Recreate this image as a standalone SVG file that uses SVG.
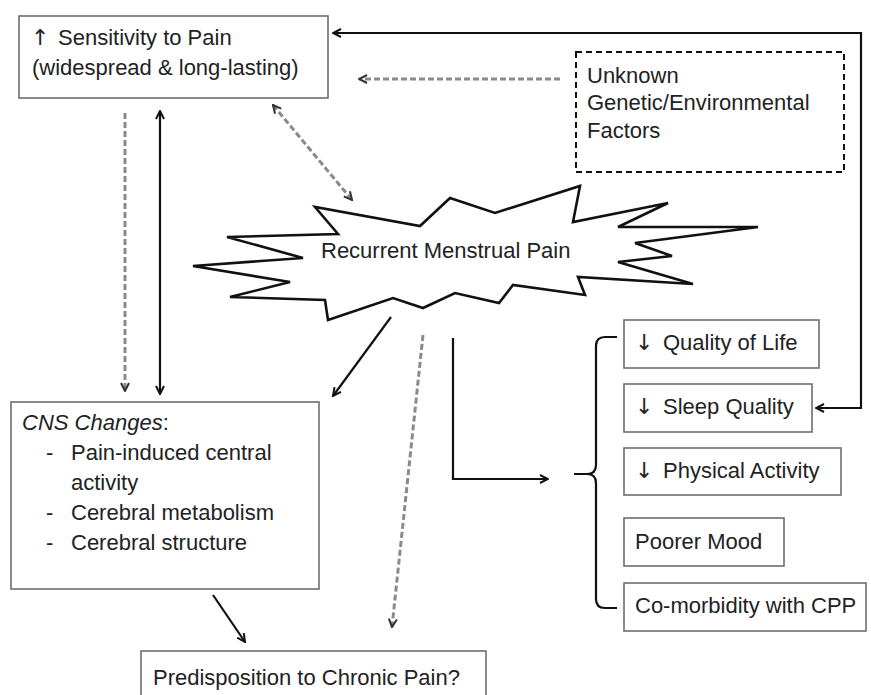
<svg xmlns="http://www.w3.org/2000/svg" width="871" height="695" viewBox="0 0 871 695">
<style>
  text { font-family: "Liberation Sans", Arial, sans-serif; font-size: 22px; fill: #222; }
  .arr { font-family: "DejaVu Sans", sans-serif; }
  .box { fill: #fff; stroke: #6e6e6e; stroke-width: 1.6; }
  .dbox { fill: #fff; stroke: #111; stroke-width: 2; stroke-dasharray: 6 4; }
  .solid { fill: none; stroke: #111; stroke-width: 2.2; }
  .dash { fill: none; stroke: #8a8a8a; stroke-width: 3; stroke-dasharray: 6 3; }
  .star { fill: #fff; stroke: #111; stroke-width: 2.6; stroke-linejoin: miter; }
</style>
<defs>
  <marker id="ah" viewBox="0 0 10 10" refX="9" refY="5" markerWidth="10" markerHeight="10" markerUnits="userSpaceOnUse" orient="auto-start-reverse">
    <path d="M1,1 L9,5 L1,9" fill="none" stroke="#111" stroke-width="2"/>
  </marker>
  <marker id="ahd" viewBox="0 0 10 10" refX="9" refY="5" markerWidth="10" markerHeight="10" markerUnits="userSpaceOnUse" orient="auto-start-reverse">
    <path d="M1,1 L9,5 L1,9" fill="none" stroke="#333" stroke-width="2"/>
  </marker>
</defs>

<g id="sensitivity">
  <rect class="box" x="19" y="16" width="309" height="82"/>
  <text x="31" y="45" font-size="23.5"><tspan class="arr">↑</tspan><tspan x="58">Sensitivity to Pain</tspan></text>
  <text x="32" y="75" font-size="23.5">(widespread &amp; long-lasting)</text>
</g>

<g id="unknown">
  <rect class="dbox" x="576" y="52" width="268" height="120"/>
  <text x="587" y="83">Unknown</text>
  <text x="587" y="110">Genetic/Environmental</text>
  <text x="587" y="138">Factors</text>
</g>

<g id="menstrual-pain">
  <path class="star" d="M193,266 L303,258 L227,237 L338,234 L315,207 L420,226 L450,198 L495,213 L580,186 L573,222 L668,203 L618,227 L758,227 L635,243 L672,256 L618,262 L693,284 L578,277 L585,295 L513,285 L499,303 L455,293 L423,308 L393,298 L328,320 L325,300 L230,297 L290,282 Z"/>
  <text x="321" y="258">Recurrent Menstrual Pain</text>
</g>

<g id="cns">
  <rect class="box" x="11" y="402" width="308" height="187"/>
  <text x="22" y="430"><tspan font-style="italic">CNS Changes</tspan>:</text>
  <text x="46" y="460">-</text>
  <text x="71" y="460">Pain-induced central</text>
  <text x="71" y="490">activity</text>
  <text x="46" y="520">-</text>
  <text x="71" y="520">Cerebral metabolism</text>
  <text x="46" y="550">-</text>
  <text x="71" y="550">Cerebral structure</text>
</g>

<g id="predisposition">
  <rect class="box" x="141" y="651" width="345" height="60"/>
  <text x="153" y="685">Predisposition to Chronic Pain?</text>
</g>

<g id="quality-of-life">
  <rect class="box" x="624" y="320" width="195" height="48"/>
  <text x="635" y="350"><tspan class="arr">↓</tspan><tspan x="663">Quality of Life</tspan></text>
</g>
<g id="sleep-quality">
  <rect class="box" x="624" y="384" width="188" height="48"/>
  <text x="635" y="414"><tspan class="arr">↓</tspan><tspan x="663">Sleep Quality</tspan></text>
</g>
<g id="physical-activity">
  <rect class="box" x="624" y="448" width="217" height="47"/>
  <text x="635" y="478"><tspan class="arr">↓</tspan><tspan x="663">Physical Activity</tspan></text>
</g>
<g id="poorer-mood">
  <rect class="box" x="624" y="518" width="160" height="48"/>
  <text x="635" y="549">Poorer Mood</text>
</g>
<g id="comorbidity">
  <rect class="box" x="624" y="583" width="242" height="48"/>
  <text x="635" y="613">Co-morbidity with CPP</text>
</g>

<g id="connectors">
  <path class="solid" d="M333,33 H861 V408 H816" marker-start="url(#ah)" marker-end="url(#ah)"/>
  <path class="dash" d="M560,79 H359" marker-end="url(#ahd)"/>
  <path class="dash" d="M273,105 L352,200" marker-start="url(#ahd)" marker-end="url(#ahd)"/>
  <path class="dash" d="M125,113 V391" marker-end="url(#ahd)"/>
  <path class="solid" d="M160,111 V394" marker-start="url(#ah)" marker-end="url(#ah)"/>
  <path class="solid" d="M391,317 L333,396" marker-end="url(#ah)"/>
  <path class="dash" d="M423,335 L392,627" marker-end="url(#ahd)"/>
  <path class="solid" d="M453,338 V479 H548" marker-end="url(#ah)"/>
  <path class="solid" d="M213,595 L245,642" marker-end="url(#ah)"/>
  <path class="solid" d="M617,337 H605 Q596,337 596,346 V465 Q596,474 587,474 H574 M587,474 Q596,474 596,483 V599 Q596,608 605,608 H617"/>
</g>
</svg>
